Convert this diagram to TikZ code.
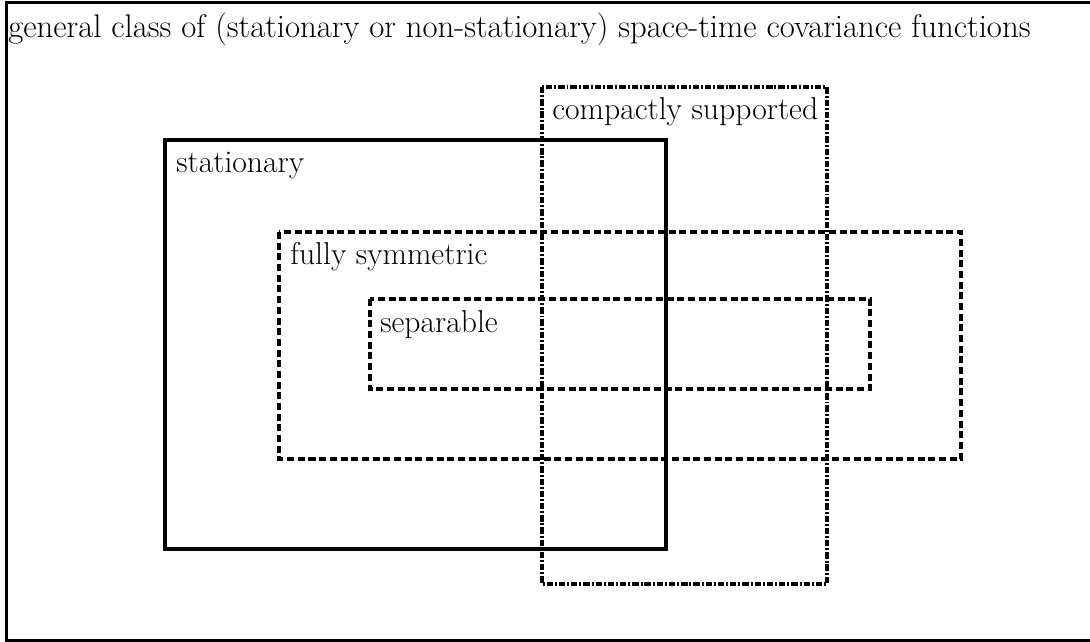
\documentclass[tikz,border=0pt]{standalone}
\usepackage{tikz}

\tikzset{
  box/.style={line width=2.3pt},
  dashbox/.style={line width=2.3pt, dash pattern=on 5pt off 2.6pt},
  dotbox/.style={line width=2.3pt, dash pattern=on 4.5pt off 1.4pt on 1.4pt off 1.4pt},
  lbl/.style={anchor=north west, inner sep=0pt, font=\fontsize{22.5}{27}\selectfont}
}

\begin{document}
\begin{tikzpicture}[x=0.025cm, y=-0.025cm]
  \useasboundingbox (0,0) rectangle (1090,641);
  % outer frame (cut off on the right)
  \draw[box] (1110,2.5) -- (6.5,2.5) -- (6.5,641) -- (1110,641);
  \node[lbl, font=\fontsize{23.3}{28}\selectfont] (gen) at (8,13) {general class of (stationary or non-stationary) space-time covariance functions};
  % the four classes
  \draw[box] (165,140) rectangle (666,549);
  \node[lbl] (stat) at (176,152) {stationary};
  \draw[dotbox] (542,87) rectangle (827,584);
  \node[lbl] (comp) at (552,97) {compactly supported};
  \draw[dashbox] (279,232) rectangle (961,459);
  \node[lbl] (sym) at (290,242) {fully symmetric};
  \draw[dashbox] (370,299) rectangle (870,389);
  \node[lbl] (sep) at (380,310) {separable};
\end{tikzpicture}
\end{document}
